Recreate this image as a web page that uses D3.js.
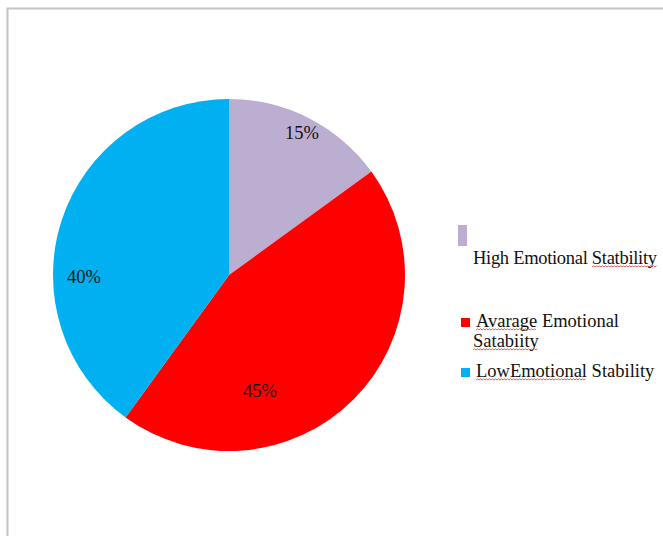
<!DOCTYPE html>
<html>
<head>
<meta charset="utf-8">
<script src="https://cdn.jsdelivr.net/npm/d3@7"></script>
<style>
  body { margin: 0; background: #fff; }
  svg { display: block; }
</style>
</head>
<body>
<div id="chart"></div>
<script>
const categories = ["High Emotional Statbility", "Avarage Emotional Satabiity", "LowEmotional Stability"];
const values = [15, 45, 40];
const colors = ["#bcaed0", "#ff0000", "#00b0f0"];

const width = 663, height = 536;

const svg = d3.select("#chart")
    .append("svg")
    .attr("width", width)
    .attr("height", height);

// frame border (top + left)
svg.append("path")
    .attr("d", "M7.5,536 L7.5,8.5 L663,8.5")
    .attr("fill", "none")
    .attr("stroke", "#c4c4c4")
    .attr("stroke-width", 2);

const cx = 229, cy = 275, r = 176;

const pie = d3.pie().sort(null).value(d => d);
const arc = d3.arc().innerRadius(0).outerRadius(r);

const g = svg.append("g")
    .attr("transform", `translate(${cx},${cy})`);

const arcs = pie(values);

g.selectAll("path.slice")
    .data(arcs)
    .enter()
    .append("path")
    .attr("class", "slice")
    .attr("d", arc)
    .attr("fill", (d, i) => colors[i]);

// percentage labels (offsets from centre, as placed in the original)
const labelPos = [[73, -140], [31, 118], [-145, 4]];
g.selectAll("text.pct")
    .data(arcs)
    .enter()
    .append("text")
    .attr("class", "pct")
    .attr("x", (d, i) => labelPos[i][0])
    .attr("y", (d, i) => labelPos[i][1])
    .attr("text-anchor", "middle")
    .attr("dominant-baseline", "middle")
    .attr("font-family", "Liberation Serif, Times New Roman, serif")
    .attr("font-size", 18.5)
    .attr("fill", "#111")
    .text(d => d.value + "%");

// legend
const legend = svg.append("g");
const font = "Liberation Serif, Times New Roman, serif";

function squiggle(x0, x1, y) {
    let p = `M${x0},${y}`;
    let up = true;
    for (let x = x0 + 1.5; x <= x1; x += 1.5) {
        p += ` L${x},${y + (up ? -1.2 : 0)}`;
        up = !up;
    }
    legend.append("path")
        .attr("d", p)
        .attr("fill", "none")
        .attr("stroke", "#e03030")
        .attr("stroke-width", 0.8);
}

function word(txt, x, y, opts) {
    const t = legend.append("text")
        .attr("x", x)
        .attr("y", y)
        .attr("font-family", font)
        .attr("font-size", 18.5)
        .attr("fill", "#111")
        .text(txt);
    if (opts && opts.len) {
        t.attr("textLength", opts.len).attr("lengthAdjust", "spacing");
    }
    return t;
}

// item 1: High
legend.append("rect")
    .attr("x", 458).attr("y", 225)
    .attr("width", 9).attr("height", 21)
    .attr("fill", colors[0]);
word(categories[0], 473, 264, { len: 184 });
squiggle(592, 657, 267);

// item 2: Average
legend.append("rect")
    .attr("x", 461).attr("y", 318)
    .attr("width", 9).attr("height", 9)
    .attr("fill", colors[1]);
const cat2 = categories[1].split(" ");
word(cat2[0] + " " + cat2[1], 476, 327);
const w2 = word(cat2[0], -999, -999);
const avW = w2.node().getComputedTextLength();
w2.remove();
squiggle(476, 476 + avW, 330);
const t2b = word(cat2[2], 473, 347);
squiggle(473, 473 + t2b.node().getComputedTextLength(), 350);

// item 3: Low
legend.append("rect")
    .attr("x", 461).attr("y", 368)
    .attr("width", 9).attr("height", 9)
    .attr("fill", colors[2]);
word(categories[2], 476, 377);
const w3 = word(categories[2].split(" ")[0], -999, -999);
const lowW = w3.node().getComputedTextLength();
w3.remove();
squiggle(476, 476 + lowW, 380);
</script>
</body>
</html>
